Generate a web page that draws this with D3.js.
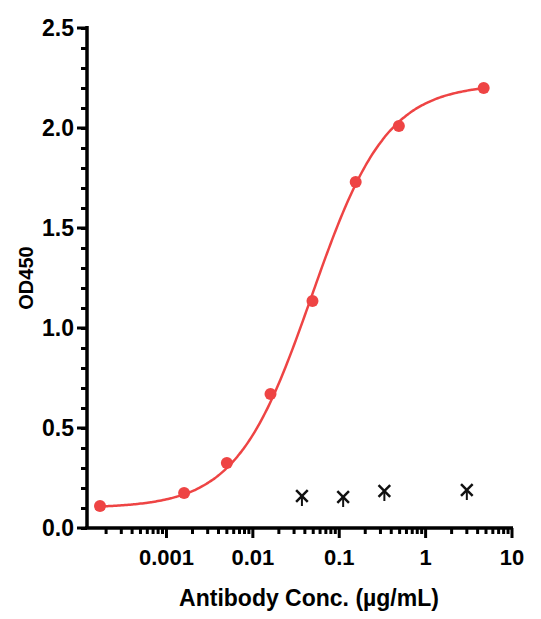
<!DOCTYPE html>
<html><head><meta charset="utf-8">
<script src="https://cdn.jsdelivr.net/npm/d3@7"></script>
<style>body{margin:0;background:#fff}text{font-family:"Liberation Sans",Arial,sans-serif;font-weight:bold}</style>
</head><body>
<script>
// measured points (red)
const concs = [0.00017, 0.0016, 0.005, 0.016, 0.049, 0.155, 0.49, 4.7];
const od = [0.11, 0.175, 0.325, 0.67, 1.135, 1.73, 2.01, 2.2];
// negative control (crosses)
const ctrlConcs = [0.037, 0.111, 0.333, 3];
const ctrlOd = [0.16, 0.155, 0.185, 0.19];
// 4PL fit parameters
const fitBottom = 0.1, fitTop = 2.22, fitEC50 = 0.048, fitHill = 1.0;
const xTicks = [0.001, 0.01, 0.1, 1, 10];
const yTicks = [0, 0.5, 1.0, 1.5, 2.0, 2.5];

const W = 541, H = 619;
const svg = d3.select("body").append("svg").attr("width", W).attr("height", H);
const x = d3.scaleLog().domain([Math.pow(10, -3.92), 10]).range([87, 512]);
const y = d3.scaleLinear().domain([0, 2.5]).range([528, 28]);

// y axis
const gy = svg.append("g").attr("transform", "translate(87,0)");
gy.call(d3.axisLeft(y).tickValues(d3.range(0, 2.51, 0.1)).tickSize(6).tickFormat(""));
gy.call(g => g.selectAll(".tick line").attr("stroke-width", 3).attr("x2", -6));
yTicks.forEach(v => {
  gy.append("line").attr("x1", 0).attr("x2", -10).attr("y1", y(v)).attr("y2", y(v)).attr("stroke", "#000").attr("stroke-width", 3);
  gy.append("text").attr("x", -13).attr("y", y(v)).attr("dy", "0.36em").attr("text-anchor", "end")
    .attr("fill", "#000").attr("font-size", 23).text(v.toFixed(1));
});
gy.select(".domain").attr("stroke-width", 3.5).attr("d", "M0,26V529");

// x axis
const gx = svg.append("g").attr("transform", "translate(0,528)");
const minor = [];
for (let e = -4; e < 1; e++) for (let m = 1; m < 10; m++) { const v = m * Math.pow(10, e); if (v >= x.domain()[0] && v <= 10) minor.push(v); }
minor.push(10);
minor.forEach(v => {
  const major = xTicks.includes(+v.toPrecision(3));
  gx.append("line").attr("x1", x(v)).attr("x2", x(v)).attr("y1", 0).attr("y2", major ? 10 : 6)
    .attr("stroke", "#000").attr("stroke-width", 3);
});
gx.append("line").attr("x1", 85).attr("x2", 513).attr("stroke", "#000").attr("stroke-width", 3.5);
xTicks.forEach(v => gx.append("text").attr("x", x(v)).attr("y", 37).attr("text-anchor", "middle")
  .attr("fill", "#000").attr("font-size", 22).text(String(v)));

svg.append("text").attr("x", 309).attr("y", 606).attr("text-anchor", "middle").attr("font-size", 23)
  .text("Antibody Conc. (\u00b5g/mL)");
svg.append("text").attr("transform", "translate(33,278) rotate(-90)").attr("text-anchor", "middle")
  .attr("font-size", 20).text("OD450");

// fit curve
const fit = c => fitBottom + (fitTop - fitBottom) / (1 + Math.pow(fitEC50 / c, fitHill));
const cs = d3.range(-3.8, Math.log10(4.7) + 0.001, 0.02).map(l => Math.pow(10, l));
svg.append("path").attr("d", d3.line().x(c => x(c)).y(c => y(fit(c))).curve(d3.curveBasis)(cs))
  .attr("fill", "none").attr("stroke", "#ee4444").attr("stroke-width", 2.5);

svg.selectAll(".pt").data(concs).join("circle").attr("cx", d => x(d)).attr("cy", (d, i) => y(od[i]))
  .attr("r", 6).attr("fill", "#ee4444");

const sym = d3.symbol().type(d3.symbolX).size(90);
svg.selectAll(".cx").data(ctrlConcs).join("path")
  .attr("transform", (d, i) => `translate(${x(d)},${y(ctrlOd[i])})`).attr("d", sym())
  .attr("fill", "none").attr("stroke", "#111").attr("stroke-width", 2.5);
svg.selectAll(".cv").data(ctrlConcs).join("line")
  .attr("x1", d => x(d)).attr("x2", d => x(d)).attr("y1", (d, i) => y(ctrlOd[i])).attr("y2", (d, i) => y(ctrlOd[i]) + 10)
  .attr("stroke", "#111").attr("stroke-width", 2);
</script>
</body></html>
